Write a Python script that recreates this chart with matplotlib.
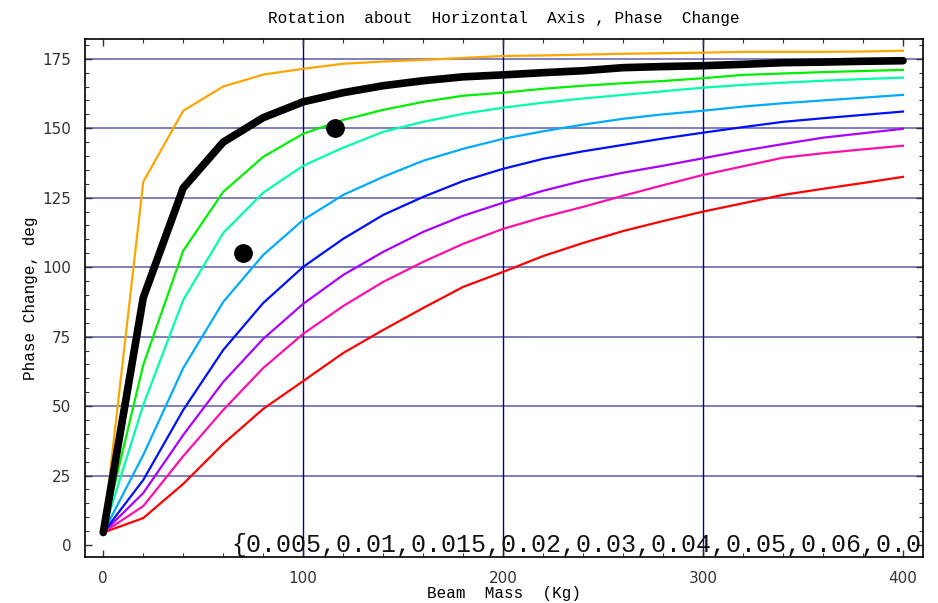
import matplotlib.pyplot as plt
import numpy as np
from matplotlib.ticker import MultipleLocator

# beam mass samples (Kg)
mass = [0, 20, 40, 60, 80, 100, 120, 140, 160, 180, 200,
        220, 240, 260, 280, 300, 320, 340, 360, 380, 400]

# phase change (deg) for each damping value
orange = [4.5, 130.7, 156.3, 165.0, 169.3, 171.4, 173.2, 174.0, 174.6, 175.3, 176.0,
          176.2, 176.5, 176.8, 177.0, 177.2, 177.5, 177.5, 177.5, 177.6, 177.9]
black = [4.5, 89.0, 128.5, 145.0, 153.8, 159.5, 162.8, 165.3, 167.1, 168.5, 169.2,
         170.0, 170.7, 171.8, 172.2, 172.5, 173.0, 173.6, 173.8, 174.1, 174.3]
green = [4.5, 64.8, 105.9, 127.1, 139.7, 148.0, 153.0, 156.6, 159.5, 161.7, 162.8,
         164.2, 165.3, 166.2, 167.0, 168.0, 169.2, 169.7, 170.2, 170.6, 171.0]
teal = [4.5, 50.4, 88.2, 112.3, 126.8, 136.5, 143.0, 148.7, 152.3, 155.2, 157.4,
        159.2, 160.7, 162.0, 163.3, 164.6, 165.6, 166.4, 167.1, 167.7, 168.2]
skyblue = [4.5, 32.4, 63.7, 87.5, 104.4, 117.0, 126.0, 132.5, 138.3, 142.6, 146.2,
           148.9, 151.3, 153.4, 155.0, 156.3, 157.8, 159.0, 160.0, 161.0, 162.0]
blue = [4.5, 23.4, 48.6, 70.2, 87.1, 100.1, 110.2, 118.8, 125.3, 131.0, 135.4,
        139.0, 141.7, 144.0, 146.3, 148.4, 150.4, 152.3, 153.6, 154.8, 156.0]
purple = [4.5, 18.7, 39.6, 58.7, 74.2, 86.8, 97.2, 105.5, 112.7, 118.5, 123.2,
          127.5, 131.1, 134.0, 136.5, 139.2, 141.9, 144.3, 146.6, 148.2, 149.8]
pink = [4.5, 14.0, 32.0, 48.6, 63.7, 76.0, 86.0, 94.7, 101.9, 108.4, 113.8,
        118.0, 121.7, 125.7, 129.5, 133.2, 136.3, 139.4, 141.0, 142.4, 143.7]
red = [4.5, 9.7, 22.0, 36.4, 49.0, 59.0, 69.1, 77.4, 85.3, 92.9, 98.3,
       104.0, 108.7, 113.0, 116.6, 120.0, 123.0, 126.0, 128.2, 130.3, 132.5]

# measured points
meas_x = [116, 70]
meas_y = [150, 105]

# damping list, runs off the right edge of the frame
damping_text = "{0.005,0.01,0.015,0.02,0.03,0.04,0.05,0.06,0.0"

fig = plt.figure(figsize=(9.38, 6.03), dpi=100)
ax = fig.add_axes([0.0909, 0.0763, 0.8931, 0.8585])

for v in [25, 50, 75, 100, 125, 150, 175]:
    ax.axhline(v, color='#7474b8', lw=1.3, zorder=1)
for v in [100, 200, 300]:
    ax.axvline(v, color='#000080', lw=1.0, zorder=1)

curves = [(red, '#ff0000'), (pink, '#ff10a8'), (purple, '#aa00ff'),
          (blue, '#0010ff'), (skyblue, '#00aaff'), (teal, '#00ffaa'),
          (green, '#00ee00'), (orange, '#ffa500')]
for ys, c in curves:
    ax.plot(mass, ys, color=c, lw=1.6, zorder=3)
ax.plot(mass, black, color='black', lw=5.5, solid_capstyle='round',
        solid_joinstyle='miter', zorder=4)
ax.plot(meas_x, meas_y, 'o', color='black', ms=12.5, zorder=5)

ax.text(64, -2.4, damping_text, family='Liberation Mono', fontsize=18,
        color='#111111', va='baseline', ha='left', clip_on=True, zorder=6)

ax.set_xlim(-9, 410)
ax.set_ylim(-4.3, 182)
ax.xaxis.set_major_locator(MultipleLocator(100))
ax.xaxis.set_minor_locator(MultipleLocator(20))
ax.yaxis.set_major_locator(MultipleLocator(25))
ax.yaxis.set_minor_locator(MultipleLocator(5))
ax.tick_params(which='both', direction='in', top=True, right=True,
               labelsize=11, colors='#333333', pad=10)
ax.tick_params(which='major', length=5, width=1)
ax.tick_params(which='minor', length=3, width=0.8)
for s in ax.spines.values():
    s.set_linewidth(1.2)

ax.set_title("Rotation  about  Horizontal  Axis , Phase  Change",
             family='Liberation Mono', fontsize=11.5, pad=12)
ax.set_ylabel("Phase Change, deg", family='Liberation Mono', fontsize=11.5,
              labelpad=3)
ax.set_xlabel("Beam  Mass  (Kg)", family='Liberation Mono', fontsize=11.5,
              labelpad=0)

fig.savefig('out.png', dpi=100)
